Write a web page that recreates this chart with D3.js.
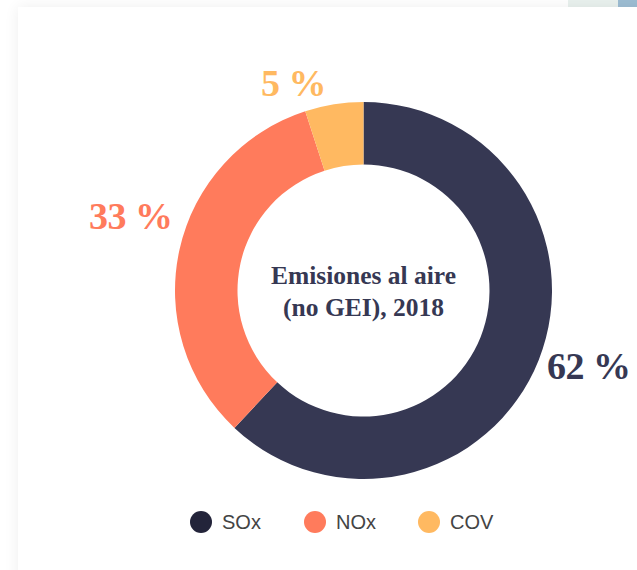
<!DOCTYPE html>
<html>
<head>
<meta charset="utf-8">
<script src="https://cdn.jsdelivr.net/npm/d3@7"></script>
<style>
  html, body { margin: 0; padding: 0; background: #fff; overflow: hidden; }
  body { width: 637px; height: 570px; position: relative; }
  .strip1 { position: absolute; left: 568px; top: 0; width: 50px; height: 7px; background: #e9f1ee; }
  .strip2 { position: absolute; left: 618px; top: 0; width: 19px; height: 7px; background: #9dbdd3; }
  .card { position: absolute; left: 18px; top: 7px; width: 660px; height: 600px; background: #fff;
          box-shadow: 0 0 14px rgba(0,0,0,0.07); }
  #viz { position: absolute; left: 0; top: 0; }
</style>
</head>
<body>
<div class="strip1"></div>
<div class="strip2"></div>
<div class="card"></div>
<div id="viz"></div>
<script>
var categories = ['SOx', 'NOx', 'COV'];
var values = [62, 33, 5];
var labels = ['62 %', '33 %', '5 %'];
var colors = ['#363853', '#ff7b5c', '#ffb961'];
var legendColors = ['#23243a', '#ff7b5c', '#ffb961'];
var titleLines = ['Emisiones al aire', '(no GEI), 2018'];

var width = 637, height = 570;
var cx = 363.5, cy = 290.5;
var outerR = 188.5, innerR = 126;

var svg = d3.select('#viz').append('svg')
  .attr('width', width)
  .attr('height', height);

var g = svg.append('g')
  .attr('transform', 'translate(' + cx + ',' + cy + ')');

var pie = d3.pie().sort(null).value(function (d) { return d; });
var arcs = pie(values);

var arc = d3.arc().innerRadius(innerR).outerRadius(outerR);
var labelArc = d3.arc().innerRadius(205).outerRadius(205);

g.selectAll('path.slice')
  .data(arcs)
  .enter().append('path')
  .attr('class', 'slice')
  .attr('d', arc)
  .attr('fill', function (d, i) { return colors[i]; });

// nudges so labels sit where the original places them
var nudge = { SOx: [-7, 0], NOx: [9, -30], COV: [-38, -5] };

g.selectAll('text.pct')
  .data(arcs)
  .enter().append('text')
  .attr('class', 'pct')
  .attr('transform', function (d, i) {
    var c = labelArc.centroid(d);
    var n = nudge[categories[i]];
    return 'translate(' + (c[0] + n[0]) + ',' + (c[1] + n[1]) + ')';
  })
  .attr('text-anchor', function (d) {
    var a = (d.startAngle + d.endAngle) / 2;
    if (a > Math.PI * 1.85) return 'middle';
    return a < Math.PI ? 'start' : 'end';
  })
  .attr('dy', '0.35em')
  .style('font-family', '"Liberation Serif", serif')
  .style('font-weight', 'bold')
  .style('font-size', '38px')
  .style('letter-spacing', '-0.5px')
  .attr('fill', function (d, i) { return colors[i]; })
  .text(function (d, i) { return labels[i]; });

g.selectAll('text.title')
  .data(titleLines)
  .enter().append('text')
  .attr('class', 'title')
  .attr('text-anchor', 'middle')
  .attr('y', function (d, i) { return -7 + i * 32; })
  .style('font-family', '"Liberation Serif", serif')
  .style('font-weight', 'bold')
  .style('font-size', '25.5px')
  .attr('fill', '#363853')
  .text(function (d) { return d; });

// legend
var legendX = d3.scalePoint().domain(categories).range([201, 429]);
var legend = svg.append('g').attr('class', 'legend')
  .selectAll('g')
  .data(categories)
  .enter().append('g')
  .attr('transform', function (d) { return 'translate(' + legendX(d) + ',522)'; });

legend.append('circle')
  .attr('r', 11)
  .attr('fill', function (d, i) { return legendColors[i]; });

legend.append('text')
  .attr('x', 21)
  .attr('dy', '0.36em')
  .style('font-family', '"Liberation Sans", Arial, sans-serif')
  .style('font-size', '20px')
  .attr('fill', '#444')
  .text(function (d) { return d; });
</script>
</body>
</html>
